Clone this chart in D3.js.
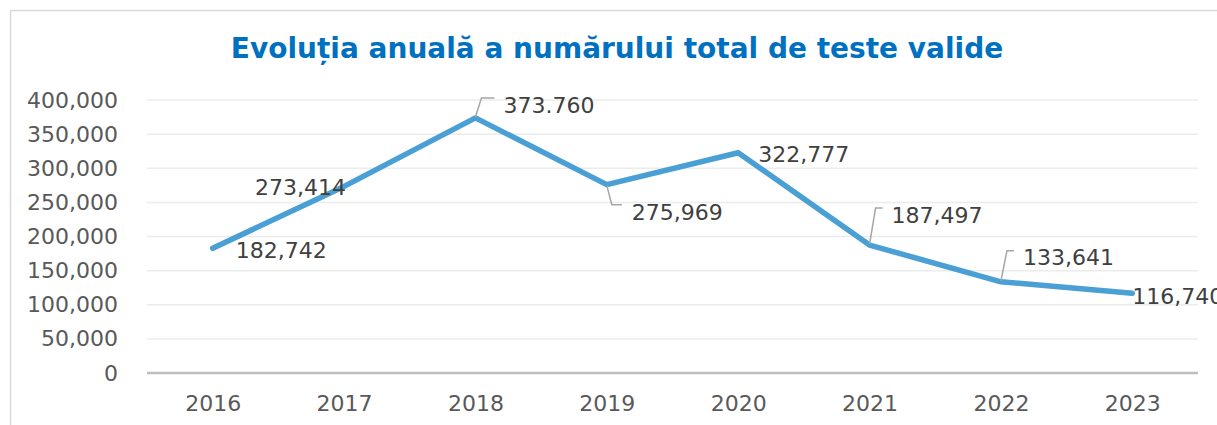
<!DOCTYPE html>
<html>
<head>
<meta charset="utf-8">
<title>Evoluția anuală a numărului total de teste valide</title>
<script src="https://cdn.jsdelivr.net/npm/d3@7"></script>
<style>
  html, body { margin: 0; padding: 0; background: #fff; }
  svg { display: block; }
  text { font-family: 'DejaVu Sans', Verdana, sans-serif; }
</style>
</head>
<body>
<svg id="chart" width="1217" height="425"></svg>
<script>
// data
var years = ['2016', '2017', '2018', '2019', '2020', '2021', '2022', '2023'];
var tests = [182742, 273414, 373760, 275969, 322777, 187497, 133641, 116740];
var dataLabels = ['182,742', '273,414', '373.760', '275,969', '322,777', '187,497', '133,641', '116,740'];
var yTicks = [0, 50000, 100000, 150000, 200000, 250000, 300000, 350000, 400000];

// label placement: text offset from the point (dx, dy) and optional leader line
var labelPos = [
  { dx: 23, dy: 2 },
  { dx: -89, dy: 1 },
  { dx: 28, dy: -13, leader: 'up' },
  { dx: 25, dy: 28, leader: 'down' },
  { dx: 20, dy: 2 },
  { dx: 22, dy: -30, leader: 'up' },
  { dx: 22, dy: -24, leader: 'up' },
  { dx: 0, dy: 3 }
];

var svg = d3.select('#chart');
var margin = { left: 147, right: 19, top: 100, bottom: 52 };
var W = 1217, H = 425;

// outer chart frame
svg.append('rect')
  .attr('x', 10.5).attr('y', 10.5)
  .attr('width', 1230).attr('height', 440)
  .attr('fill', '#fff').attr('stroke', '#d9d9d9').attr('stroke-width', 1.5);

svg.append('text')
  .attr('x', 617).attr('y', 58)
  .attr('text-anchor', 'middle')
  .attr('font-size', 28).attr('font-weight', 'bold')
  .attr('fill', '#0070c0')
  .text('Evoluția anuală a numărului total de teste valide');

var x = d3.scalePoint().domain(years)
  .range([margin.left, W - margin.right]).padding(0.5);
var y = d3.scaleLinear().domain([0, 400000])
  .range([H - margin.bottom, margin.top]);

// gridlines
svg.append('g').selectAll('line')
  .data(yTicks.filter(function (d) { return d > 0; }))
  .join('line')
  .attr('x1', margin.left).attr('x2', W - margin.right)
  .attr('y1', function (d) { return y(d); }).attr('y2', function (d) { return y(d); })
  .attr('stroke', '#ececec').attr('stroke-width', 1.5);

// y axis labels
var yAxis = svg.append('g')
  .attr('transform', 'translate(' + (margin.left - 29) + ',0)')
  .call(d3.axisLeft(y).tickValues(yTicks).tickFormat(d3.format(',')).tickSize(0).tickPadding(0));
yAxis.select('.domain').remove();
yAxis.selectAll('text')
  .attr('font-size', 22).attr('fill', '#595959')
  .attr('font-family', "'DejaVu Sans', Verdana, sans-serif");

// x axis
var xAxis = svg.append('g')
  .attr('transform', 'translate(0,' + y(0) + ')')
  .call(d3.axisBottom(x).tickSize(0).tickPadding(22));
xAxis.select('.domain').attr('stroke', '#bfbfbf').attr('stroke-width', 2.5)
  .attr('d', 'M' + margin.left + ',0H' + (W - margin.right));
xAxis.selectAll('text')
  .attr('font-size', 22).attr('fill', '#595959')
  .attr('font-family', "'DejaVu Sans', Verdana, sans-serif");

// line
var line = d3.line()
  .x(function (d, i) { return x(years[i]); })
  .y(function (d) { return y(d); });

svg.append('path')
  .datum(tests)
  .attr('d', line)
  .attr('fill', 'none')
  .attr('stroke', '#4a9fd4')
  .attr('stroke-width', 5.5)
  .attr('stroke-linejoin', 'round')
  .attr('stroke-linecap', 'round');

// leader lines
var leaders = svg.append('g')
  .attr('fill', 'none').attr('stroke', '#a6a6a6').attr('stroke-width', 1.5);
tests.forEach(function (v, i) {
  var p = labelPos[i];
  if (!p.leader) return;
  var px = x(years[i]), py = y(v);
  var ly = py + p.dy - 7 + (p.leader === 'down' ? -1 : 0);
  var pts = p.leader === 'up'
    ? [[px, py - 1], [px + 6, ly], [px + p.dx - 9, ly]]
    : [[px, py + 1], [px + 5, ly], [px + p.dx - 10, ly]];
  leaders.append('path').attr('d', d3.line()(pts));
});

// data labels
svg.append('g').selectAll('text')
  .data(tests)
  .join('text')
  .attr('x', function (d, i) { return x(years[i]) + labelPos[i].dx; })
  .attr('y', function (d, i) { return y(d) + labelPos[i].dy; })
  .attr('dy', '0.35em')
  .attr('font-size', 22)
  .attr('fill', '#404040')
  .text(function (d, i) { return dataLabels[i]; });
</script>
</body>
</html>
